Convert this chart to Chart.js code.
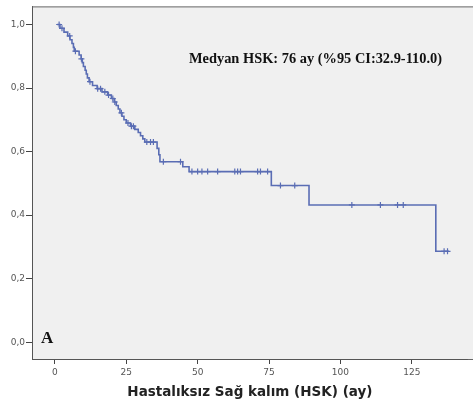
<!DOCTYPE html>
<html>
<head>
<meta charset="utf-8">
<script src="https://cdn.jsdelivr.net/npm/chart.js@4/dist/chart.umd.min.js"></script>
<style>
  html, body { margin: 0; padding: 0; background: #fff; overflow: hidden; }
  canvas { display: block; }
</style>
</head>
<body>
<canvas id="km" width="473" height="408"></canvas>
<script>
// Kaplan-Meier steps: time (ay) and survival after each drop
const eventTimes = [0.8, 1.8, 3.2, 4.5, 5.3, 6.0, 6.5, 6.8, 8.5, 9.2, 9.6, 10.0, 10.6, 11.0, 11.4, 12.0,
  13.2, 14.8, 16.5, 18.5, 19.8, 20.8, 21.5, 22.2, 22.8, 23.5, 24.2, 25.0, 26.5, 28.0, 29.2, 30.0,
  30.8, 31.5, 35.8, 36.4, 36.8, 44.8, 47.0, 75.8, 89.0, 133.4, 138.0];
const survival = [1.0, 0.988, 0.976, 0.964, 0.952, 0.940, 0.928, 0.916, 0.904, 0.892, 0.880, 0.868, 0.856, 0.844, 0.832, 0.820,
  0.808, 0.798, 0.788, 0.778, 0.767, 0.756, 0.745, 0.734, 0.722, 0.711, 0.700, 0.690, 0.680, 0.670, 0.660, 0.650,
  0.640, 0.630, 0.610, 0.590, 0.568, 0.552, 0.537, 0.493, 0.432, 0.286, 0.286];
// censored observations (time)
const censorTimes = [1.5, 2.5, 5.2, 7.2, 9.3, 12.3, 15.0, 16.0, 17.5, 18.8, 20.3, 21.0, 23.3, 25.6, 26.8, 27.5,
  32.2, 33.5, 34.5, 38.0, 44.0, 48.0, 50.0, 51.5, 53.5, 57.0, 63.0, 64.0, 65.0, 71.0, 72.0, 74.5,
  79.0, 84.0, 104.0, 114.0, 120.0, 122.0, 136.3, 137.5];
const xTicks = [0, 25, 50, 75, 100, 125];
const yTicks = [0, 0.2, 0.4, 0.6, 0.8, 1.0];

const medianLabel = 'Medyan HSK: 76 ay (%95 CI:32.9-110.0)';
const panelLabel = 'A';
const xTitle = 'Hastalıksız Sağ kalım (HSK) (ay)';

const lineColor = '#5a6db4';

function survivalAt(t) {
  let s = survival[0];
  for (let i = 0; i < eventTimes.length; i++) {
    if (eventTimes[i] <= t) s = survival[i];
  }
  return s;
}

const kmPoints = eventTimes.map((t, i) => ({ x: t, y: survival[i] }));
const censorPoints = censorTimes.map((t) => ({ x: t, y: survivalAt(t) }));

// plot background, frame and in-plot labels
const framePlugin = {
  id: 'frame',
  beforeDraw(chart) {
    const { ctx, chartArea: a } = chart;
    ctx.save();
    ctx.fillStyle = '#fff';
    ctx.fillRect(0, 0, chart.width, chart.height);
    ctx.fillStyle = '#f0f0f0';
    ctx.fillRect(a.left, a.top, chart.width - a.left, a.bottom - a.top);
    ctx.restore();
  },
  afterDraw(chart) {
    const { ctx, chartArea: a, scales } = chart;
    ctx.save();
    ctx.strokeStyle = '#666';
    ctx.lineWidth = 1;
    ctx.beginPath();
    ctx.moveTo(a.left, a.top + 0.5);
    ctx.lineTo(chart.width, a.top + 0.5);
    ctx.moveTo(a.right, a.bottom + 0.5);
    ctx.lineTo(chart.width, a.bottom + 0.5);
    ctx.stroke();

    ctx.fillStyle = '#111';
    ctx.font = 'bold 14.4px "Liberation Serif", serif';
    ctx.textBaseline = 'middle';
    ctx.fillText(medianLabel, 189, 59);

    ctx.font = 'bold 17px "Liberation Serif", serif';
    ctx.fillText(panelLabel, 41, scales.y.getPixelForValue(0) - 4);
    ctx.restore();
  }
};

new Chart(document.getElementById('km'), {
  type: 'scatter',
  data: {
    datasets: [
      {
        label: 'KM',
        data: kmPoints,
        showLine: true,
        stepped: true,
        borderColor: lineColor,
        borderWidth: 1.6,
        pointRadius: 0,
        fill: false,
      },
      {
        label: 'Censored',
        data: censorPoints,
        showLine: false,
        pointStyle: 'cross',
        pointRadius: 3,
        borderColor: lineColor,
        borderWidth: 1.2,
      },
    ],
  },
  options: {
    responsive: false,
    animation: false,
    layout: { padding: { top: 6, right: 0, left: 0, bottom: 7 } },
    plugins: { legend: { display: false }, tooltip: { enabled: false } },
    scales: {
      x: {
        type: 'linear',
        min: -8,
        max: 144.6,
        afterBuildTicks: (s) => { s.ticks = xTicks.map((v) => ({ value: v })); },
        afterFit: (s) => { s.height = 42; },
        grid: { drawOnChartArea: false, drawTicks: true, tickLength: 5, color: '#444' },
        border: { display: true, color: '#555', width: 1 },
        ticks: { color: '#555', font: { family: '"DejaVu Sans", sans-serif', size: 9 }, padding: 3, maxRotation: 0 },
        title: {
          display: true,
          text: xTitle,
          color: '#222',
          font: { family: '"DejaVu Sans", sans-serif', size: 13.5, weight: 'bold' },
          padding: { top: 4, bottom: 0 },
        },
      },
      y: {
        min: -0.053,
        max: 1.057,
        afterBuildTicks: (s) => { s.ticks = yTicks.map((v) => ({ value: v })); },
        afterFit: (s) => { s.width = 32; },
        grid: { drawOnChartArea: false, drawTicks: true, tickLength: 6, color: '#444' },
        border: { display: true, color: '#555', width: 1 },
        ticks: {
          color: '#555',
          font: { family: '"DejaVu Sans", sans-serif', size: 9 },
          padding: 1,
          callback: (v) => v.toFixed(1).replace('.', ','),
        },
      },
    },
  },
  plugins: [framePlugin],
});
</script>
</body>
</html>
